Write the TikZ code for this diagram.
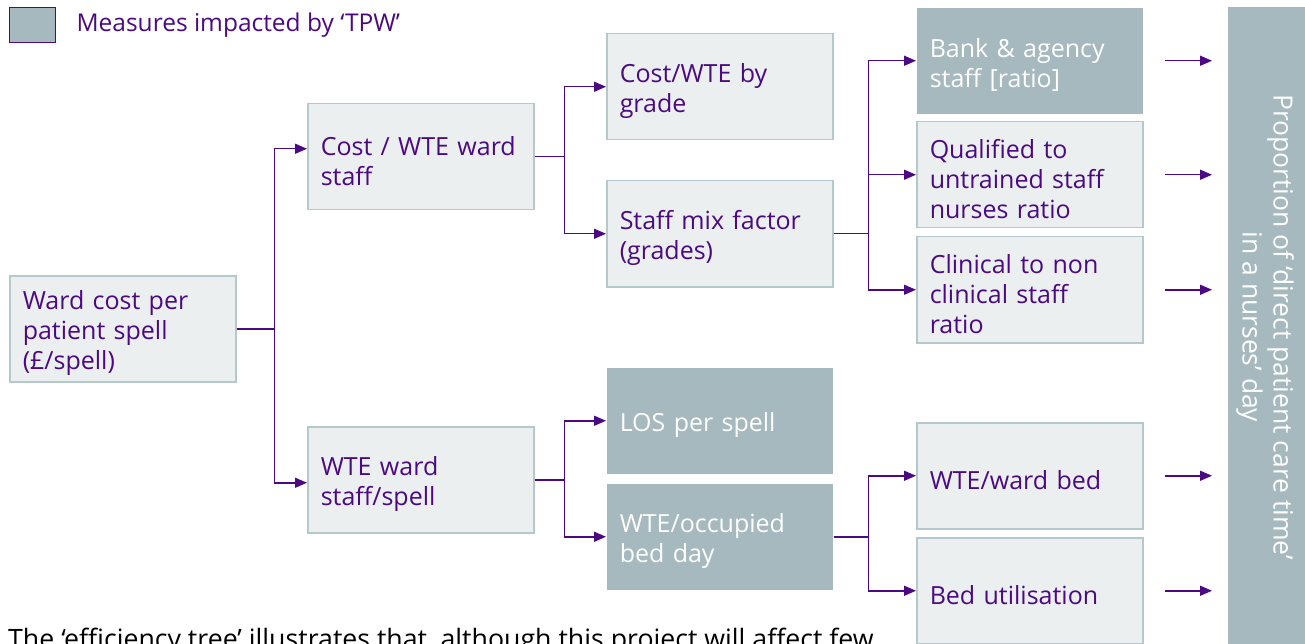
\documentclass[tikz,border=0pt]{standalone}
\usepackage{fontspec}
\setmainfont{Open Sans}
\usetikzlibrary{arrows.meta,positioning}
\definecolor{tpwpurple}{RGB}{75,10,130}
\definecolor{boxfill}{RGB}{236,239,240}
\definecolor{boxline}{RGB}{181,200,206}
\definecolor{tpwgrey}{RGB}{165,185,191}

\begin{document}
\begin{tikzpicture}[x=1pt, y=-1pt,
  box/.style={rectangle, draw=boxline, line width=1.5pt, fill=boxfill, anchor=north west, minimum width=226pt, minimum height=106pt, text width=200pt, inner xsep=13pt, align=left, text=tpwpurple, font=\fontsize{25}{30}\selectfont, execute at begin node={\rule{0pt}{27pt}}},
  dbox/.style={box, draw=none, fill=tpwgrey, text=white},
  arr/.style={-{Triangle[length=12pt,width=10pt]}, line width=1.5pt, draw=tpwpurple},
]
  \clip (0,0) rectangle (1305,644);

  % Key
  \node[rectangle, draw=tpwpurple, line width=1pt, fill=tpwgrey, minimum width=46pt, minimum height=35pt, anchor=north west] (key) at (9,7) {};
  \node[right=17pt of key, text=tpwpurple, font=\fontsize{24.5}{28}\selectfont] (keytext) {Measures impacted by ‘TPW’};

  % Level 1
  \node[box] (ward) at (9,275) {Ward cost per\\patient spell\\(£/spell)};

  % Level 2
  \node[box] (costwte) at (307,103) {Cost / WTE ward\\staff};
  \node[box] (wtespell) at (307,426) {WTE ward\\staff/spell};

  % Level 3
  \node[box] (grade) at (606,33) {Cost/WTE by\\grade};
  \node[box] (mix) at (606,180) {Staff mix factor\\(grades)};
  \node[dbox] (los) at (606,367) {LOS per spell};
  \node[dbox] (occbed) at (606,483) {WTE/occupied\\bed day};

  % Level 4
  \node[dbox] (bank) at (916,7) {Bank \& agency\\staff [ratio]};
  \node[box] (qual) at (916,121) {Qualified to\\untrained staff\\nurses ratio};
  \node[box] (clin) at (916,236) {Clinical to non\\clinical staff\\ratio};
  \node[box] (wardbed) at (916,422) {WTE/ward bed};
  \node[box] (util) at (916,537) {Bed utilisation};

  % Outcome
  \node[rectangle, fill=tpwgrey, anchor=north west, minimum width=80pt, minimum height=660pt] (bar) at (1228,7) {};
  \node[rotate=-90, align=center, text=white, font=\fontsize{26.5}{31}\selectfont] (barlabel) at (1265,327) {Proportion of ‘direct patient care time’\\in a nurses’ day};

  \draw[arr] (ward.east) -- ++(38,0) |- ([yshift=8pt]costwte.west);
  \draw[arr] (ward.east) -- ++(38,0) |- ([yshift=-3pt]wtespell.west);
  \draw[arr] (costwte.east) -- ++(30,0) |- (grade.west);
  \draw[arr] (costwte.east) -- ++(30,0) |- (mix.west);
  \draw[arr] (wtespell.east) -- ++(30,0) |- (los.west);
  \draw[arr] (wtespell.east) -- ++(30,0) |- (occbed.west);
  \draw[arr] (mix.east) -- ++(35,0) |- (bank.west);
  \draw[arr] (mix.east) -- ++(35,0) |- (qual.west);
  \draw[arr] (mix.east) -- ++(35,0) |- (clin.west);
  \draw[arr] (occbed.east) -- ++(35,0) |- (wardbed.west);
  \draw[arr] (occbed.east) -- ++(35,0) |- (util.west);

  \foreach \m in {bank,qual,clin,wardbed,util}
    \draw[arr, shorten <=21pt, shorten >=16pt] (\m.east) -- (\m.east -| bar.west);

  % Caption (cut off at the foot)
  \node[anchor=base west, inner sep=0pt, font=\fontsize{26.7}{32}\selectfont] (caption) at (8,648) {The ‘efficiency tree’ illustrates that, although this project will affect few};
\end{tikzpicture}
\end{document}
